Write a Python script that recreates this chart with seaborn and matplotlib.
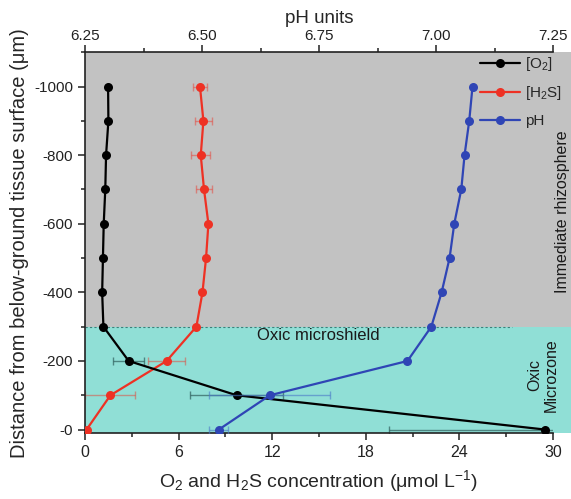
import numpy as np
import pandas as pd
import matplotlib
matplotlib.use("Agg")
import matplotlib.pyplot as plt
from matplotlib.ticker import MultipleLocator, FixedLocator
import seaborn as sns

# ---------------- data ----------------
depth = [-1000, -900, -800, -700, -600, -500, -400, -300, -200, -100, 0]
o2 = [1.48, 1.50, 1.35, 1.30, 1.20, 1.15, 1.10, 1.18, 2.80, 9.72, 29.5]
o2_err = [0, 0, 0, 0, 0, 0, 0, 0, 1.0, 3.0, 10.0]
h2s = [7.37, 7.59, 7.42, 7.63, 7.91, 7.76, 7.53, 7.14, 5.23, 1.63, 0.10]
h2s_err = [0.43, 0.56, 0.60, 0.53, 0, 0, 0, 0, 1.16, 1.60, 0]
ph = [7.078, 7.071, 7.061, 7.054, 7.039, 7.029, 7.012, 6.990, 6.939, 6.645, 6.536]
ph_err = [0, 0, 0, 0, 0, 0, 0, 0, 0, 0.129, 0.02]

y_ticks = [0, -200, -400, -600, -800, -1000]
y_ticklabels = ["-0", "-200", "-400", "-600", "-800", "-1000"]
x_ticks = [0, 6, 12, 18, 24, 30]
ph_ticks = [6.25, 6.50, 6.75, 7.00, 7.25]
ph_ticklabels = ["6.25", "6.50", "6.75", "7.00", "7.25"]

sns.set_theme(style="ticks")
plt.rcParams["font.family"] = ["Liberation Sans", "DejaVu Sans"]
plt.rcParams["mathtext.fontset"] = "custom"
plt.rcParams["mathtext.rm"] = "Liberation Sans"
plt.rcParams["mathtext.it"] = "Liberation Sans:italic"

W, H = 571, 499
fig = plt.figure(figsize=(W / 100, H / 100), dpi=100)
L, R, T, B = 85, 553, 52.3, 433
ax = fig.add_axes([L / W, (H - B) / H, (R - L) / W, (B - T) / H])
ax.set_facecolor("none")

GREY = "#c2c2c2"
CYAN = "#90dfd6"
BLACK = "#000000"
RED = "#ee3124"
BLUE = "#2f45b5"

ax.set_xlim(0, 30)
ax.set_ylim(10, -1100)

xext = (W - L) / (R - L)
ax.axhspan(-1100, -300, xmin=0, xmax=xext, color=GREY, lw=0, clip_on=False, zorder=0)
ax.axhspan(-300, 10, xmin=0, xmax=xext, color=CYAN, lw=0, clip_on=False, zorder=0)
ax.hlines(-300, 0, 27.4, colors="#3d7f7a", linestyles=(0, (2, 2)), lw=0.8, zorder=1)

df = pd.DataFrame({"depth": depth, "o2": o2, "h2s": h2s, "ph": ph})

# error bars
ax.errorbar(o2, depth, xerr=o2_err, fmt="none", ecolor="#2f5f5c", alpha=0.7,
            elinewidth=1.0, capsize=3, zorder=2)
ax.errorbar(h2s, depth, xerr=h2s_err, fmt="none", ecolor=RED, alpha=0.45,
            elinewidth=1.0, capsize=3, zorder=2)

sns.lineplot(data=df, x="o2", y="depth", sort=False, estimator=None, ax=ax,
             color=BLACK, marker="o", markersize=6.5, markeredgewidth=0,
             lw=1.6, label="[O$_2$]", zorder=4, legend=False)
sns.lineplot(data=df, x="h2s", y="depth", sort=False, estimator=None, ax=ax,
             color=RED, marker="o", markersize=6.5, markeredgewidth=0,
             lw=1.6, label="[H$_2$S]", zorder=3, legend=False)

ax2 = ax.twiny()
ax2.set_facecolor("none")
ax2.set_xlim(6.25, 7.25)
ax2.errorbar(ph, depth, xerr=ph_err, fmt="none", ecolor="#4a78c8", alpha=0.6,
             elinewidth=1.0, capsize=3, zorder=2)
sns.lineplot(data=df, x="ph", y="depth", sort=False, estimator=None, ax=ax2,
             color=BLUE, marker="o", markersize=6.5, markeredgewidth=0,
             lw=1.6, label="pH", zorder=3, legend=False)
ax2.set_ylim(10, -1100)

# ticks
ax.set_yticks(y_ticks)
ax.set_yticklabels(y_ticklabels)
ax.yaxis.set_minor_locator(FixedLocator([-1100, -900, -700, -500, -300, -100]))
ax.set_xticks(x_ticks)
ax.xaxis.set_minor_locator(MultipleLocator(3))
ax2.set_xticks(ph_ticks)
ax2.set_xticklabels(ph_ticklabels)
ax2.xaxis.set_minor_locator(MultipleLocator(0.125))

for a in (ax, ax2):
    a.tick_params(which="major", direction="out", length=5, width=1.1, labelsize=11, colors="#222222")
    a.tick_params(which="minor", direction="out", length=3, width=1.1, colors="#222222")
    for s in a.spines.values():
        s.set_linewidth(1.2)
        s.set_color("#222222")
    a.spines["right"].set_visible(False)
ax.spines["top"].set_visible(False)
ax2.spines["bottom"].set_visible(False)
ax2.spines["left"].set_visible(False)
ax2.tick_params(axis="x", pad=2)
ax.tick_params(axis="x", labelsize=11.5)

ax.set_xlabel("O$_2$ and H$_2$S concentration (\u03bcmol L$^{-1}$)", fontsize=14, labelpad=6)
ax.set_ylabel("Distance from below-ground tissue surface (\u03bcm)", fontsize=14.5, labelpad=4)
ax2.set_xlabel("pH units", fontsize=13.5, labelpad=4)

# legend
h1, l1 = ax.get_legend_handles_labels()
h2, l2 = ax2.get_legend_handles_labels()
fig.legend(h1 + h2, l1 + l2, loc="upper left",
           bbox_to_anchor=(480 / W, (H - 55) / H), frameon=False, fontsize=11,
           handlelength=2.6, handletextpad=0.35, labelspacing=0.75,
           borderpad=0, borderaxespad=0)

# annotations
fig.text(318 / W, (H - 336) / H, "Oxic microshield", fontsize=12, ha="center", va="center", color="#1a1a1a")
fig.text(562 / W, (H - 212) / H, "Immediate rhizosphere", fontsize=11.5, rotation=90,
         ha="center", va="center", color="#1a1a1a")
fig.text(543 / W, (H - 375) / H, "Oxic\nMicrozone", fontsize=11.5, rotation=90,
         ha="center", va="center", color="#1a1a1a", multialignment="center", linespacing=1.1)

fig.savefig("out.png", dpi=100)
